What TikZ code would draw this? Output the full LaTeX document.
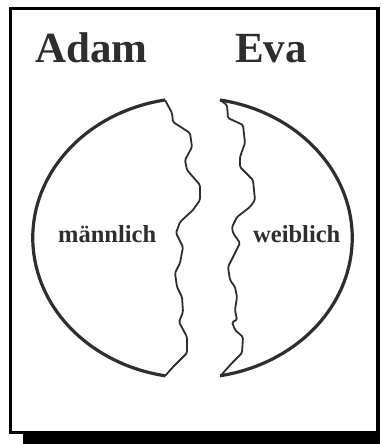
\documentclass[tikz,border=0pt]{standalone}
\usepackage{fontspec}
\setmainfont{Liberation Serif}
\definecolor{inkgray}{HTML}{2E2E2E}
\tikzset{
  half/.style={draw=inkgray, line width=3.2pt},
  tear/.style={draw=inkgray, line width=1.8pt, line join=round, rounded corners=1.5pt},
  title/.style={text=inkgray, inner sep=0pt, anchor=base west, font=\bfseries\fontsize{43}{43}\selectfont},
  sex/.style={text=inkgray, inner sep=0pt, anchor=base west, font=\bfseries\fontsize{24.5}{25}\selectfont},
}
\begin{document}
\begin{tikzpicture}[x=1pt, y=-1pt]
  \useasboundingbox (0,0) rectangle (380,444);
  % frame with shadow
  \fill[black] (23,431) rectangle (380,444);
  \fill[black] (376,7) rectangle (380,444);
  \draw[line width=3pt] (10.5,8.5) rectangle (377.5,432.5);
  % titles
  \node[title] (adam) at (35,63) {Adam};
  \node[title] (eva) at (235,63) {Eva};
  % left half
  \draw[half] (165,100) arc[start angle=-100, end angle=-260, x radius=160, y radius=140];
  \draw[tear] (165,100) -- (172,113) -- (173,122) -- (190,133) -- (192,147) -- (185,160)
    -- (187,170) -- (200,185) -- (200,200) -- (193,210) -- (180,222) -- (176,233)
    -- (183,247) -- (180,263) -- (175,273) -- (177,287) -- (182,297) -- (183,312)
    -- (179,322) -- (187,337) -- (187,353) -- (173,367) -- (165,376);
  % right half
  \draw[half] (220,100) arc[start angle=-80, end angle=80, x radius=160, y radius=140];
  \draw[tear] (220,100) -- (227,105) -- (228,118) -- (243,125) -- (245,143) -- (240,157)
    -- (240,167) -- (253,180) -- (255,200) -- (250,207) -- (237,217) -- (232,227)
    -- (233,233) -- (240,243) -- (235,253) -- (228,267) -- (230,280) -- (235,287)
    -- (237,297) -- (235,310) -- (237,320) -- (232,322) -- (235,330) -- (243,337)
    -- (242,353) -- (232,363) -- (223,373) -- (221,376);
  % labels
  \node[sex] (male) at (58,242) {männlich};
  \node[sex] (female) at (253,242) {weiblich};
\end{tikzpicture}
\end{document}
